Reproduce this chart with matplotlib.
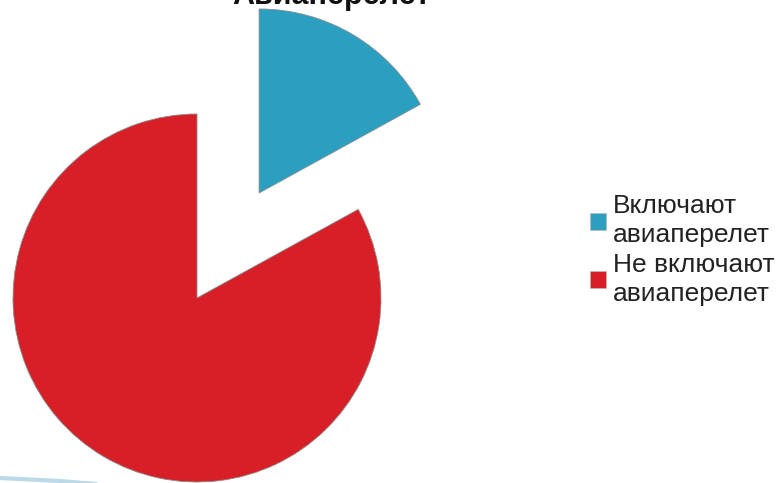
import matplotlib.pyplot as plt
from matplotlib.patches import Patch

# данные
labels = ['Включают\nавиаперелет', 'Не включают\nавиаперелет']
values = [17, 83]
colors = ['#2a9fbf', '#d81f27']
title = 'Авиаперелет'

plt.rcParams['font.family'] = ['Liberation Sans', 'DejaVu Sans']

W, H = 779, 483
fig = plt.figure(figsize=(W / 100, H / 100), dpi=100)
ax = fig.add_axes([0, 0, 1, 1])

# круговая диаграмма (координаты в пикселях)
ax.pie(values, colors=colors, startangle=90, counterclock=False,
       center=(197, H - 298), radius=184, explode=[122, 0],
       wedgeprops=dict(edgecolor='#8a8a8a', linewidth=0.6))
ax.set_xlim(0, W)
ax.set_ylim(0, H)
ax.set_aspect('equal')
ax.axis('off')

# заголовок (обрезан сверху, как на слайде)
fig.text(331 / W, 1 - 4 / H, title, ha='center', va='baseline',
         fontsize=22, fontweight='bold', color='#111111')

# легенда
handles = [Patch(facecolor=c, edgecolor='#bbbbbb', linewidth=0.5) for c in colors]
leg = fig.legend(handles, labels, loc='center left',
                 bbox_to_anchor=(590 / W, 1 - 250 / H), frameon=False,
                 fontsize=19, handlelength=0.62, handleheight=0.62,
                 handletextpad=0.26, labelspacing=0.2, borderpad=0,
                 borderaxespad=0)
for t in leg.get_texts():
    t.set_color('#222222')
    t.set_linespacing(1.26)

# декоративная линия слайда внизу слева
ax.plot([0, 60, 120], [H - 478, H - 481, H - 486], color='#bcd9ea',
        linewidth=3, solid_capstyle='round')

fig.savefig('out.png', dpi=100)
